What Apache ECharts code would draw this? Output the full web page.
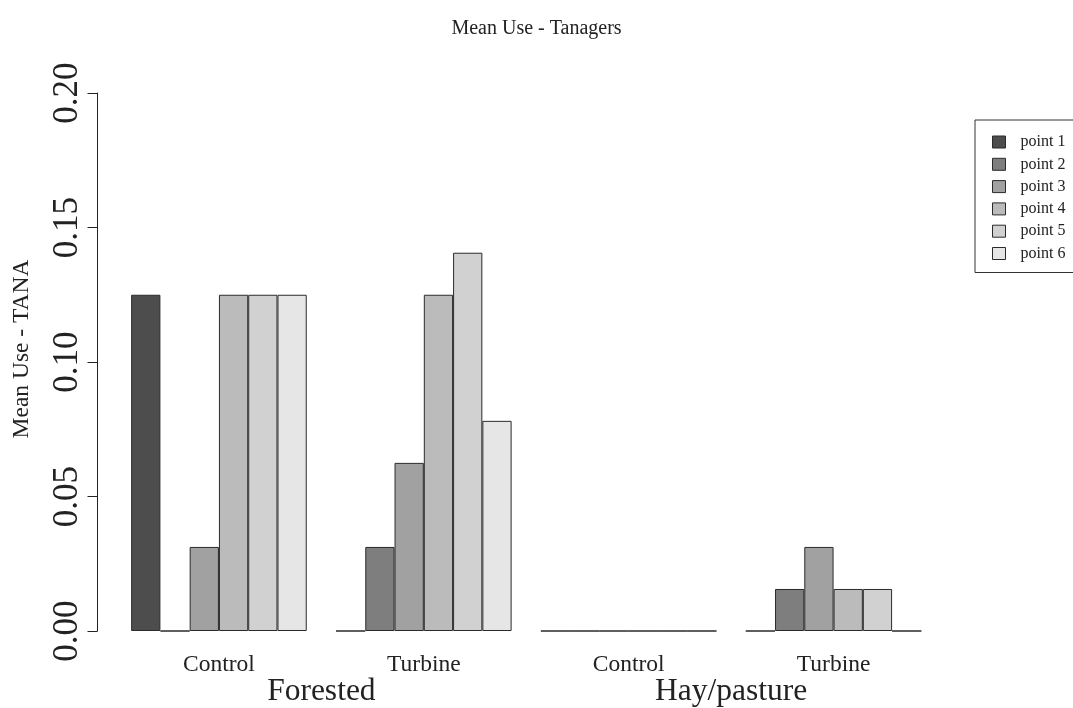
<!DOCTYPE html>
<html>
<head>
<meta charset="utf-8">
<title>Mean Use - Tanagers</title>
<script src="https://cdn.jsdelivr.net/npm/echarts@6/dist/echarts.min.js"></script>
<style>
  html, body { margin: 0; padding: 0; background: #fff; }
  #chart { width: 1073px; height: 708px; }
</style>
</head>
<body>
<div id="chart"></div>
<script>
// Treatment within each habitat, and the habitats below them
const categories = ['Control', 'Turbine', 'Control', 'Turbine'];
const habitats = ['Forested', 'Hay/pasture'];

// Mean use per survey point, in category order
const pointNames = ['point 1', 'point 2', 'point 3', 'point 4', 'point 5', 'point 6'];
const point1 = [0.125, 0, 0, 0];
const point2 = [0, 0.03125, 0, 0.015625];
const point3 = [0.03125, 0.0625, 0, 0.03125];
const point4 = [0.125, 0.125, 0, 0.015625];
const point5 = [0.125, 0.140625, 0, 0.015625];
const point6 = [0.125, 0.078125, 0, 0];
const pointValues = [point1, point2, point3, point4, point5, point6];

const pointColors = ['#4d4d4d', '#7e7e7e', '#a1a1a1', '#bbbbbb', '#d1d1d1', '#e6e6e6'];
const FONT = '"Liberation Serif", "Times New Roman", serif';
const INK = '#222';

const chart = echarts.init(document.getElementById('chart'), null, { renderer: 'canvas' });

const series = pointNames.map((name, i) => ({
  name: name,
  type: 'bar',
  xAxisIndex: 0,
  data: pointValues[i],
  barGap: '0%',
  barCategoryGap: '14.2857%',
  itemStyle: { color: pointColors[i], borderColor: '#2b2b2b', borderWidth: 1 },
  emphasis: { disabled: true },
  animation: false
}));

chart.setOption({
  animation: false,
  title: {
    text: 'Mean Use - Tanagers',
    left: 'center',
    top: 19,
    padding: 0,
    textStyle: { fontFamily: FONT, fontSize: 20, fontWeight: 'normal', color: INK }
  },
  legend: {
    orient: 'vertical',
    left: 975,
    top: 120,
    padding: [14, 40, 11, 17],
    borderColor: '#333',
    borderWidth: 1,
    borderRadius: 0,
    itemWidth: 13,
    itemHeight: 12,
    itemGap: 6.3,
    icon: 'rect',
    selectedMode: false,
    itemStyle: { borderColor: '#2b2b2b', borderWidth: 1 },
    textStyle: { fontFamily: FONT, fontSize: 16, color: INK, lineHeight: 16, padding: [0, 0, 0, 10] },
    data: pointNames
  },
  grid: { left: 116.5, width: 819.5, top: 93, height: 538, containLabel: false },
  xAxis: [
    {
      type: 'category',
      data: categories,
      position: 'bottom',
      axisLine: { show: false },
      axisTick: { show: false },
      axisLabel: { fontFamily: FONT, fontSize: 23.5, color: INK, margin: 22 }
    },
    {
      type: 'category',
      data: habitats,
      position: 'bottom',
      axisLine: { show: false },
      axisTick: { show: false },
      axisLabel: { fontFamily: FONT, fontSize: 31.5, color: INK, margin: 45 }
    }
  ],
  yAxis: {
    type: 'value',
    min: 0,
    max: 0.2,
    interval: 0.05,
    offset: 19,
    axisLine: { show: true, lineStyle: { color: INK, width: 1 } },
    axisTick: { show: true, length: 10, lineStyle: { color: INK, width: 1 } },
    splitLine: { show: false },
    axisLabel: {
      fontFamily: FONT,
      fontSize: 35,
      color: INK,
      rotate: 90,
      margin: 12,
      formatter: v => v.toFixed(2)
    }
  },
  graphic: [
    {
      type: 'text',
      x: 22,
      y: 349,
      rotation: Math.PI / 2,
      style: {
        text: 'Mean Use - TANA',
        fontFamily: FONT,
        fontSize: 23.5,
        fill: INK,
        textAlign: 'center',
        textVerticalAlign: 'middle'
      }
    }
  ],
  series: series
});
</script>
</body>
</html>
